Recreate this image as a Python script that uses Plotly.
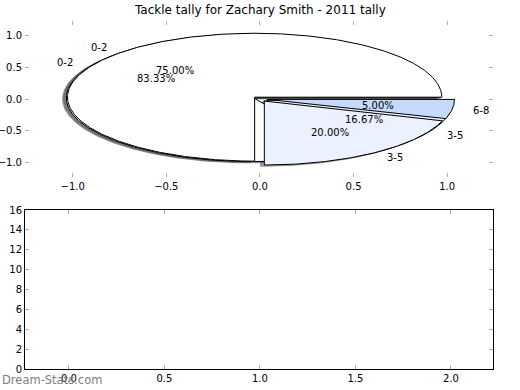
import numpy as np
import plotly.graph_objects as go

# ---- data ----
title_text = "Tackle tally for Zachary Smith - 2011 tally"
pie_a_labels = ["0-2", "3-5"]
pie_a_values = [83.33, 16.67]
pie_b_labels = ["0-2", "3-5", "6-8"]
pie_b_values = [75.0, 20.0, 5.0]
label_colors = {"0-2": "#ffffff", "3-5": "#ebf1fe", "6-8": "#c6d9fd"}
top_ticks = [-1.0, -0.5, 0.0, 0.5, 1.0]
bottom_xticks = [0.0, 0.5, 1.0, 1.5, 2.0]
bottom_yticks = [0, 2, 4, 6, 8, 10, 12, 14, 16]

EXPLODE = 0.04
LABEL_DIST = 1.1
PCT_DIST = 0.6
SHADOW_OFF = (-0.02, -0.02)

fig = go.Figure()


def wedges(values):
    total = float(sum(values))
    out = []
    start = 0.0
    for v in values:
        span = 360.0 * v / total
        out.append((start, start + span, v / total * 100))
        start += span
    return out


def wedge_poly(t1, t2, cx, cy):
    th = np.radians(np.linspace(t1, t2, max(int(abs(t2 - t1)) * 2, 8)))
    xs = np.concatenate([[cx], cx + np.cos(th), [cx]])
    ys = np.concatenate([[cy], cy + np.sin(th), [cy]])
    return xs, ys


pies = [(pie_a_labels, pie_a_values), (pie_b_labels, pie_b_values)]

# shadows (below all wedges)
for labels, values in pies:
    for (t1, t2, pct), lab in zip(wedges(values), labels):
        mid = np.radians((t1 + t2) / 2)
        cx = EXPLODE * np.cos(mid) + SHADOW_OFF[0]
        cy = EXPLODE * np.sin(mid) + SHADOW_OFF[1]
        xs, ys = wedge_poly(t1, t2, cx, cy)
        fig.add_trace(go.Scatter(x=xs, y=ys, fill="toself", mode="lines",
                                 fillcolor="rgba(77,77,77,0.5)",
                                 line=dict(color="rgba(77,77,77,0.5)", width=1),
                                 xaxis="x", yaxis="y", hoverinfo="skip", showlegend=False))

annotations = []
for labels, values in pies:
    for (t1, t2, pct), lab in zip(wedges(values), labels):
        mid = np.radians((t1 + t2) / 2)
        cx = EXPLODE * np.cos(mid)
        cy = EXPLODE * np.sin(mid)
        xs, ys = wedge_poly(t1, t2, cx, cy)
        fig.add_trace(go.Scatter(x=xs, y=ys, fill="toself", mode="lines",
                                 fillcolor=label_colors[lab],
                                 line=dict(color="black", width=1),
                                 xaxis="x", yaxis="y", hoverinfo="skip", showlegend=False))
        lx = cx + LABEL_DIST * np.cos(mid)
        ly = cy + LABEL_DIST * np.sin(mid)
        annotations.append(dict(x=lx, y=ly, xref="x", yref="y", text=lab, showarrow=False,
                                xanchor="left" if lx > 0 else "right", yanchor="middle",
                                font=dict(size=10, color="black")))
        px = cx + PCT_DIST * np.cos(mid)
        py = cy + PCT_DIST * np.sin(mid)
        annotations.append(dict(x=px, y=py, xref="x", yref="y", text="%.2f%%" % pct,
                                showarrow=False, xanchor="center", yanchor="middle",
                                font=dict(size=10, color="black")))

# empty bottom axes trace
fig.add_trace(go.Scatter(x=[], y=[], xaxis="x2", yaxis="y2", showlegend=False))

annotations.append(dict(x=0.5, y=1 - 10 / 390, xref="paper", yref="paper", text=title_text,
                        showarrow=False, xanchor="center", yanchor="middle",
                        font=dict(size=12, color="black")))
annotations.append(dict(x=0.0, y=10 / 390, xref="paper", yref="paper", text="Dream-Stats.com",
                        showarrow=False, xanchor="left", yanchor="middle",
                        font=dict(size=11.5, color="#808080", family="DejaVu Sans")))

tick_font = dict(size=10, color="black", family="DejaVu Sans")
common = dict(ticks="inside", ticklen=4, tickcolor="#b0b0b0", showline=True,
              mirror="allticks", showgrid=False, zeroline=False, tickfont=tick_font,
              automargin=False)
fig.update_layout(
    width=520, height=390,
    margin=dict(l=0, r=0, t=0, b=0, autoexpand=False),
    paper_bgcolor="white", plot_bgcolor="white",
    font=dict(family="DejaVu Sans"),
    showlegend=False,
    annotations=annotations,
    xaxis=dict(domain=[25 / 520, 493 / 520], range=[-1.255, 1.245], anchor="y",
               tickvals=top_ticks, tickformat=".1f", linecolor="rgba(0,0,0,0)", **common),
    yaxis=dict(domain=[(390 - 177) / 390, (390 - 21) / 390], range=[-1.22, 1.22], anchor="x",
               tickvals=top_ticks, tickformat=".1f", linecolor="rgba(0,0,0,0)", **common),
    xaxis2=dict(domain=[25 / 520, 493 / 520], range=[-0.23, 2.22], anchor="y2",
                tickvals=bottom_xticks, tickformat=".1f", linecolor="black", linewidth=1,
                **common),
    yaxis2=dict(domain=[(390 - 369) / 390, (390 - 210) / 390], range=[0, 16], anchor="x2",
                tickvals=bottom_yticks, linecolor="black", linewidth=1, **common),
)

fig.write_html("out.html", config={"displayModeBar": False},
               post_script="document.body.style.margin='0px';document.body.style.overflow='hidden';")
